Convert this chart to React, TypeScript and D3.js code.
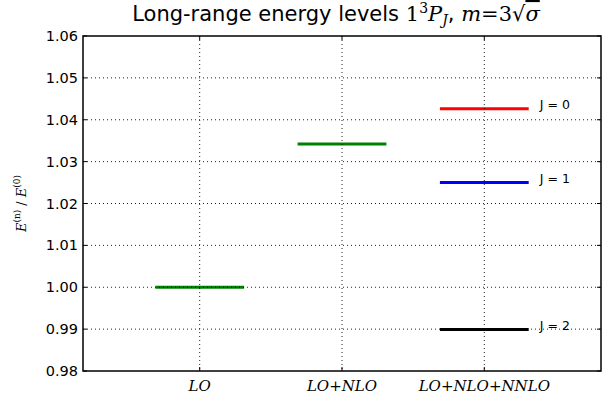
import React, { useEffect, useRef } from 'react';
import * as d3 from 'd3';

// categories on the x axis (positions 1..3)
const categories = ['LO', 'LO+NLO', 'LO+NLO+NNLO'];
const yTicks = [0.98, 0.99, 1.0, 1.01, 1.02, 1.03, 1.04, 1.05, 1.06];

// energy levels: category position, value, color, label
const levelPos = [1, 2, 3, 3, 3];
const levelValues = [1.0, 1.0342, 1.0426, 1.025, 0.9899];
const levelColors = ['#008000', '#008000', '#ff0000', '#0000ff', '#000000'];
const levelLabels = ['', '', 'J = 0', 'J = 1', 'J = 2'];

const W = 610;
const H = 401;

const App: React.FC = () => {
  const svgRef = useRef<SVGSVGElement>(null);

  useEffect(() => {
    if (!svgRef.current) return;
    const margin = { top: 36, right: 9, bottom: 30, left: 83 };
    const width = W - margin.left - margin.right;
    const height = H - margin.top - margin.bottom;

    const svg = d3.select(svgRef.current);
    svg.selectAll('*').remove();

    const g = svg.append('g').attr('transform', `translate(${margin.left},${margin.top})`);

    const x = d3.scaleLinear().domain([0.18, 3.82]).range([0, width]);
    const y = d3.scaleLinear().domain([0.98, 1.06]).range([height, 0]);

    // level bars
    const half = 0.312;
    levelValues.forEach((v, i) => {
      g.append('line')
        .attr('x1', x(levelPos[i] - half))
        .attr('x2', x(levelPos[i] + half))
        .attr('y1', y(v))
        .attr('y2', y(v))
        .attr('stroke', levelColors[i])
        .attr('stroke-width', 3);
      if (levelLabels[i]) {
        g.append('text')
          .attr('x', x(levelPos[i] + 0.39))
          .attr('y', y(v))
          .attr('font-family', 'DejaVu Sans')
          .attr('font-size', 12.5)
          .attr('fill', '#000')
          .text(levelLabels[i]);
      }
    });

    // grid (drawn on top of the levels)
    const grid = g.append('g')
      .attr('stroke', '#000')
      .attr('stroke-width', 1)
      .attr('stroke-dasharray', '1,3')
      .attr('opacity', 0.85);
    yTicks.slice(1, -1).forEach(t => {
      grid.append('line').attr('x1', 0).attr('x2', width).attr('y1', y(t)).attr('y2', y(t));
    });
    categories.forEach((_, i) => {
      grid.append('line').attr('x1', x(i + 1)).attr('x2', x(i + 1)).attr('y1', 0).attr('y2', height);
    });

    // frame
    g.append('rect')
      .attr('width', width)
      .attr('height', height)
      .attr('fill', 'none')
      .attr('stroke', '#000')
      .attr('stroke-width', 1.5);

    // inward ticks
    const tk = 4;
    yTicks.forEach(t => {
      g.append('line').attr('x1', 0).attr('x2', tk).attr('y1', y(t)).attr('y2', y(t)).attr('stroke', '#000');
      g.append('line').attr('x1', width).attr('x2', width - tk).attr('y1', y(t)).attr('y2', y(t)).attr('stroke', '#000');
      g.append('text')
        .attr('x', -5)
        .attr('y', y(t))
        .attr('dy', '0.35em')
        .attr('text-anchor', 'end')
        .attr('font-family', 'DejaVu Sans')
        .attr('font-size', 14.5)
        .text(d3.format('.2f')(t));
    });
    categories.forEach((c, i) => {
      const px = x(i + 1);
      g.append('line').attr('x1', px).attr('x2', px).attr('y1', height).attr('y2', height - tk).attr('stroke', '#000');
      g.append('line').attr('x1', px).attr('x2', px).attr('y1', 0).attr('y2', tk).attr('stroke', '#000');
      const parts = c.split('+');
      const t = g.append('text')
        .attr('x', px)
        .attr('y', height + 20)
        .attr('text-anchor', 'middle')
        .attr('font-family', 'DejaVu Serif')
        .attr('font-style', 'italic')
        .attr('font-size', 15);
      parts.forEach((p, j) => {
        if (j > 0) t.append('tspan').attr('font-style', 'normal').text('+');
        t.append('tspan').text(p);
      });
    });

    // y label
    const yl = svg.append('text')
      .attr('transform', `translate(26,${margin.top + height / 2}) rotate(-90)`)
      .attr('text-anchor', 'middle')
      .attr('font-family', 'DejaVu Serif')
      .attr('font-style', 'italic')
      .attr('font-size', 13);
    yl.append('tspan').text('E');
    yl.append('tspan').attr('font-size', 9).attr('dy', -6).attr('font-style', 'normal').text('(n)');
    yl.append('tspan').attr('dy', 6).attr('font-style', 'normal').text(' / ');
    yl.append('tspan').text('E');
    yl.append('tspan').attr('font-size', 9).attr('dy', -6).attr('font-style', 'normal').text('(0)');

    // title
    const serif = 'DejaVu Serif';
    const title = svg.append('text')
      .attr('x', margin.left + width / 2 - 6)
      .attr('y', 21)
      .attr('text-anchor', 'middle')
      .attr('font-family', 'DejaVu Sans')
      .attr('font-size', 21);
    title.append('tspan').text('Long-range energy levels ');
    title.append('tspan').attr('font-family', serif).text('1');
    title.append('tspan').attr('font-family', serif).attr('font-size', 14).attr('dy', -8).text('3');
    title.append('tspan').attr('font-family', serif).attr('font-style', 'italic').attr('dy', 8).text('P');
    title.append('tspan').attr('font-family', serif).attr('font-style', 'italic').attr('font-size', 14).attr('dy', 4).text('J');
    title.append('tspan').attr('dy', -4).text(', ');
    title.append('tspan').attr('font-family', serif).attr('font-style', 'italic').text('m');
    title.append('tspan').attr('font-family', serif).text('=3√');
    title.append('tspan').attr('font-family', serif).attr('font-style', 'italic').attr('text-decoration', 'overline').text('σ');
  }, []);

  return <svg ref={svgRef} width={W} height={H} style={{ position: 'absolute', left: 0, top: 0, background: '#fff' }} />;
};

export default App;
